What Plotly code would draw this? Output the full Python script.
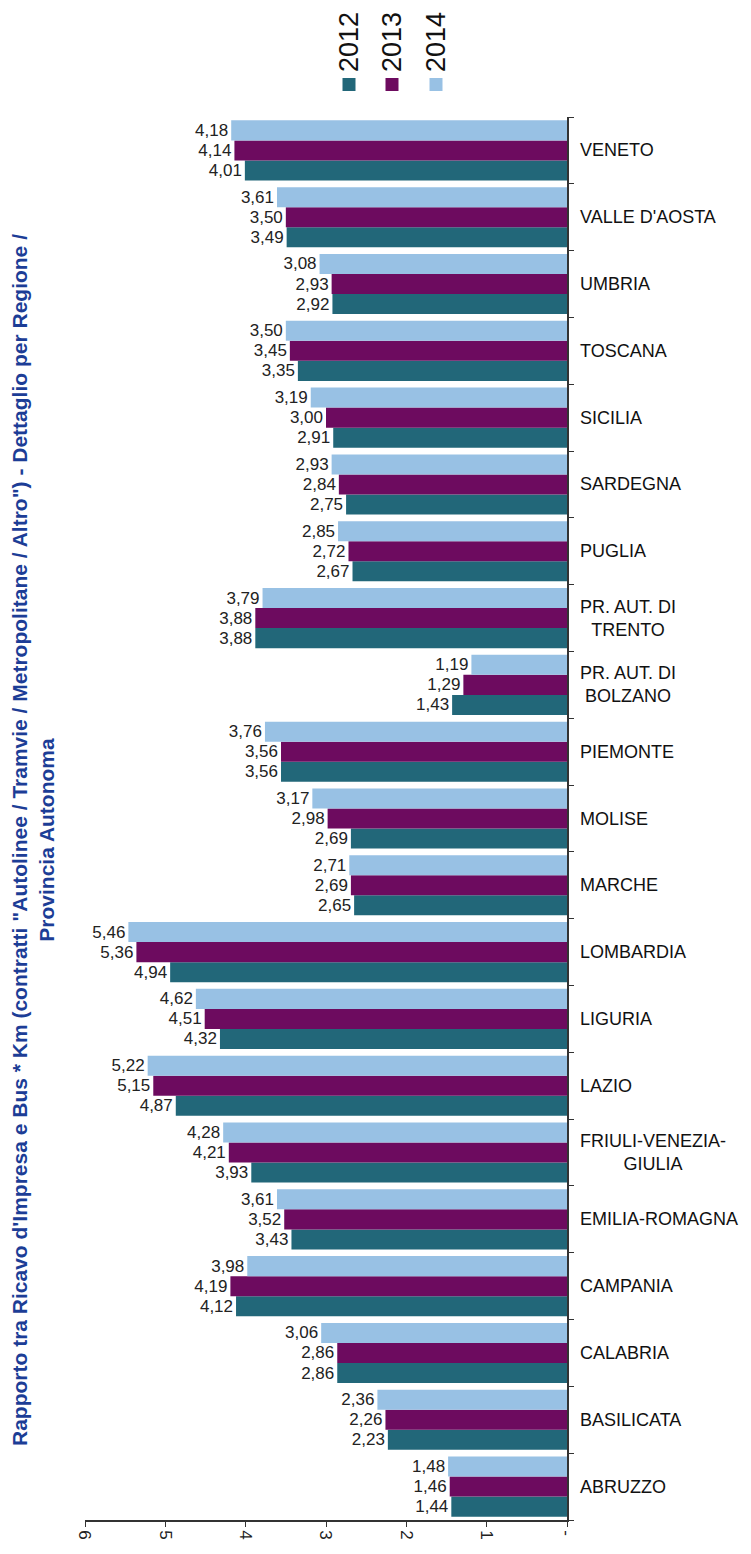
import plotly.graph_objects as go

# regions, top to bottom as in the picture
regioni = ["VENETO", "VALLE D'AOSTA", "UMBRIA", "TOSCANA", "SICILIA", "SARDEGNA",
           "PUGLIA", "PR. AUT. DI TRENTO", "PR. AUT. DI BOLZANO", "PIEMONTE",
           "MOLISE", "MARCHE", "LOMBARDIA", "LIGURIA", "LAZIO",
           "FRIULI-VENEZIA-GIULIA", "EMILIA-ROMAGNA", "CAMPANIA", "CALABRIA",
           "BASILICATA", "ABRUZZO"]
etichette = ["VENETO", "VALLE D'AOSTA", "UMBRIA", "TOSCANA", "SICILIA", "SARDEGNA",
             "PUGLIA", "PR. AUT. DI<br>TRENTO", "PR. AUT. DI<br>BOLZANO", "PIEMONTE",
             "MOLISE", "MARCHE", "LOMBARDIA", "LIGURIA", "LAZIO",
             "FRIULI-VENEZIA-<br>GIULIA", "EMILIA-ROMAGNA", "CAMPANIA", "CALABRIA",
             "BASILICATA", "ABRUZZO"]

v2012 = [4.01, 3.49, 2.92, 3.35, 2.91, 2.75, 2.67, 3.88, 1.43, 3.56,
         2.69, 2.65, 4.94, 4.32, 4.87, 3.93, 3.43, 4.12, 2.86, 2.23, 1.44]
v2013 = [4.14, 3.50, 2.93, 3.45, 3.00, 2.84, 2.72, 3.88, 1.29, 3.56,
         2.98, 2.69, 5.36, 4.51, 5.15, 4.21, 3.52, 4.19, 2.86, 2.26, 1.46]
v2014 = [4.18, 3.61, 3.08, 3.50, 3.19, 2.93, 2.85, 3.79, 1.19, 3.76,
         3.17, 2.71, 5.46, 4.62, 5.22, 4.28, 3.61, 3.98, 3.06, 2.36, 1.48]

anni = ["2012", "2013", "2014"]
colori = ["#226779", "#6d0b5f", "#98c1e4"]

tick_vals = [0, 1, 2, 3, 4, 5, 6]
tick_text = ["-", "1", "2", "3", "4", "5", "6"]

titolo = ("Rapporto tra Ricavo d'Impresa e Bus * Km (contratti \"Autolinee / Tramvie / "
          "Metropolitane / Altro\") - Dettaglio per Regione /<br>Provincia Autonoma")

# the page body has an 8px margin, so shift everything by it
OFF = 8
W, H = 751 - OFF, 1554 - OFF
L, R, T, B = 85 - OFF, 567 - OFF, 117 - OFF, 1520 - OFF


def px_x(p):
    return (p - OFF - L) / (R - L)


def px_y(p):
    return (B - (p - OFF)) / (B - T)


fig = go.Figure()
for anno, vals, col in zip(anni, [v2012, v2013, v2014], colori):
    fig.add_trace(go.Bar(
        y=regioni, x=vals, orientation="h", name=anno,
        marker=dict(color=col, line=dict(width=0)),
        texttemplate="%{x:.2f}", textposition="outside", constraintext="none",
        textfont=dict(size=17, color="#222222", family="Liberation Sans, Arial"),
        cliponaxis=False, showlegend=False,
    ))

# region labels, centred lines like the original
for reg, lab in zip(regioni, etichette):
    fig.add_annotation(x=px_x(578), xref="paper", y=reg, yref="y", text=lab,
                       showarrow=False, xanchor="left", align="center",
                       font=dict(size=18, color="#111111", family="Liberation Sans, Arial"))

# rotated legend
leg_x = [349, 392, 436]
for anno, col, lx in zip(anni, colori, leg_x):
    fig.add_annotation(x=px_x(lx), xref="paper", y=px_y(74), yref="paper", text=anno,
                       textangle=-90, showarrow=False, xanchor="center", yanchor="bottom",
                       font=dict(size=27, color="#111111", family="Liberation Sans, Arial"))
    fig.add_shape(type="rect", xref="paper", yref="paper",
                  x0=px_x(lx - 6.5), x1=px_x(lx + 6.5), y0=px_y(91), y1=px_y(78),
                  fillcolor=col, line=dict(width=0))

# rotated title on the left
fig.add_annotation(x=px_x(33), xref="paper", y=px_y(840), yref="paper",
                   text="<b>" + titolo + "</b>", textangle=-90, showarrow=False,
                   xanchor="center", yanchor="middle", align="center",
                   font=dict(size=21, color="#1c3d96", family="Liberation Sans, Arial"))

# thin border line at the top
fig.add_shape(type="line", xref="paper", yref="paper", x0=px_x(0), x1=px_x(751),
              y0=px_y(5), y1=px_y(5), line=dict(color="#cccccc", width=1.5))

fig.update_layout(
    width=W, height=H, autosize=False,
    margin=dict(l=L, r=W - R, t=T, b=H - B, pad=0),
    plot_bgcolor="white", paper_bgcolor="white",
    barmode="group", bargap=0.1, bargroupgap=0,
    separators=",.",
    font=dict(family="Liberation Sans, Arial", color="#222222"),
)
fig.update_xaxes(range=[6, 0], tickvals=tick_vals, ticktext=tick_text, tickangle=90,
                 ticks="outside", ticklen=5, tickcolor="#333333",
                 showline=True, linecolor="#333333", linewidth=1.5,
                 showgrid=False, zeroline=False,
                 tickfont=dict(size=17, color="#222222"))
fig.update_yaxes(categoryorder="array", categoryarray=regioni[::-1], side="right",
                 showticklabels=False, ticks="outside", tickson="boundaries",
                 ticklen=5, tickcolor="#333333",
                 showline=True, linecolor="#333333", linewidth=1.5,
                 showgrid=False, zeroline=False)

fig.write_html("out.html")
